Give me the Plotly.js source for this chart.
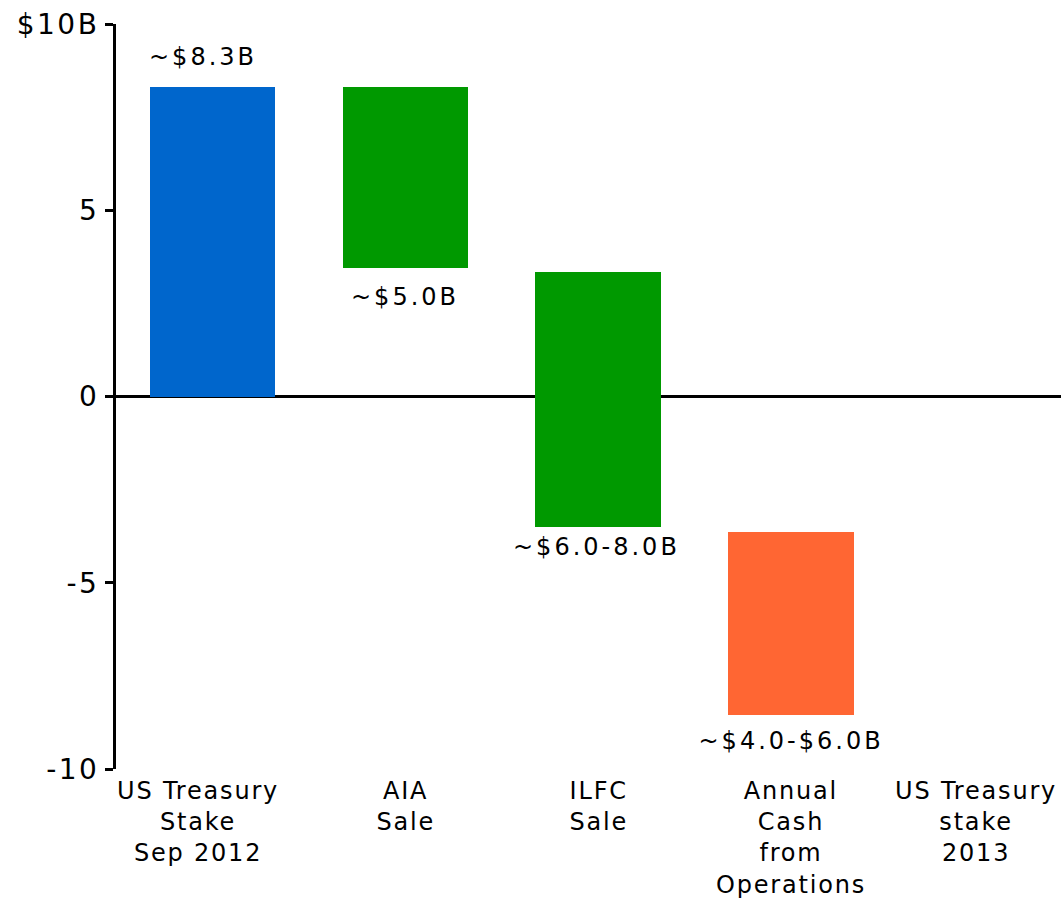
<!DOCTYPE html>
<html>
<head>
<meta charset="utf-8">
<script src="https://cdn.plot.ly/plotly-3.0.1.min.js"></script>
<style>
html,body{margin:0;padding:0;background:#fff;overflow:hidden}
#chart{width:1061px;height:901px}
#chart .ytick text{letter-spacing:2.5px}
#chart .annotation-text{letter-spacing:3px}
#chart .annotation.catlabel .annotation-text{letter-spacing:1.8px}
</style>
</head>
<body>
<div id="chart"></div>
<script>
const categories = ["US Treasury<br>Stake<br>Sep 2012", "AIA<br>Sale", "ILFC<br>Sale", "Annual<br>Cash<br>from<br>Operations", "US Treasury<br>stake<br>2013"];
const barStart = [0, 8.3, 3.35, -3.65];
const barEnd = [8.3, 3.45, -3.5, -8.55];
const barLabels = ["~$8.3B", "~$5.0B", "~$6.0-8.0B", "~$4.0-$6.0B"];
const yTickVals = [10, 5, 0, -5, -10];
const yTickText = ["$10B", "5", "0", "-5", "-10"];

// styling (not data)
const barColors = ["#0066cc", "#009900", "#009900", "#ff6633"];
const labelYShift = [14, -13, -4, -10];
const labelXShift = [-9, 0, -2, 0];
const catXShift = [-14, 0, 0, 0, -8];
const FONT = "DejaVu Sans, Verdana, sans-serif";
const xIdx = barStart.map((_, i) => i);
const catIdx = categories.map((_, i) => i);

const trace = {
  type: "bar",
  x: xIdx,
  base: barStart,
  y: barStart.map((s, i) => barEnd[i] - s),
  width: 0.65,
  marker: {color: barColors, line: {width: 0}},
  hoverinfo: "skip"
};

const annotations = barLabels.map((t, i) => {
  const up = barEnd[i] > barStart[i];
  return {
    x: i, y: barEnd[i], xref: "x", yref: "y",
    text: t, showarrow: false,
    yanchor: up ? "bottom" : "top",
    yshift: labelYShift[i], xshift: labelXShift[i],
    font: {family: FONT, size: 24, color: "#000"}
  };
}).concat(categories.map((c, i) => ({
  x: catIdx[i], y: 0, xref: "x", yref: "paper",
  text: c, showarrow: false, align: "center",
  xanchor: "center", yanchor: "top",
  yshift: -6, xshift: catXShift[i],
  font: {family: FONT, size: 24, color: "#000"}
})));

const layout = {
  width: 1061, height: 901,
  margin: {l: 116, r: 0, t: 24, b: 132},
  paper_bgcolor: "#fff", plot_bgcolor: "#fff",
  showlegend: false,
  bargap: 0,
  xaxis: {
    range: [-0.5, 4.4], fixedrange: true,
    tickmode: "array", tickvals: catIdx,
    showticklabels: false,
    showgrid: false, zeroline: false, showline: false, ticks: "",
    automargin: false
  },
  yaxis: {
    range: [-10, 10], fixedrange: true,
    tickmode: "array", tickvals: yTickVals, ticktext: yTickText,
    showgrid: false,
    zeroline: true, zerolinecolor: "#000", zerolinewidth: 3,
    showline: true, linecolor: "#000", linewidth: 3,
    ticks: "outside", ticklen: 8, tickwidth: 3, tickcolor: "#000",
    tickfont: {family: FONT, size: 28, color: "#000"},
    automargin: false
  },
  annotations: annotations
};

Plotly.newPlot("chart", [trace], layout, {displayModeBar: false, staticPlot: true}).then(gd => {
  const nBar = barLabels.length;
  gd.querySelectorAll(".annotation").forEach(g => {
    const idx = +g.getAttribute("data-index");
    if (idx >= nBar) g.classList.add("catlabel");
  });
});
</script>
</body>
</html>
